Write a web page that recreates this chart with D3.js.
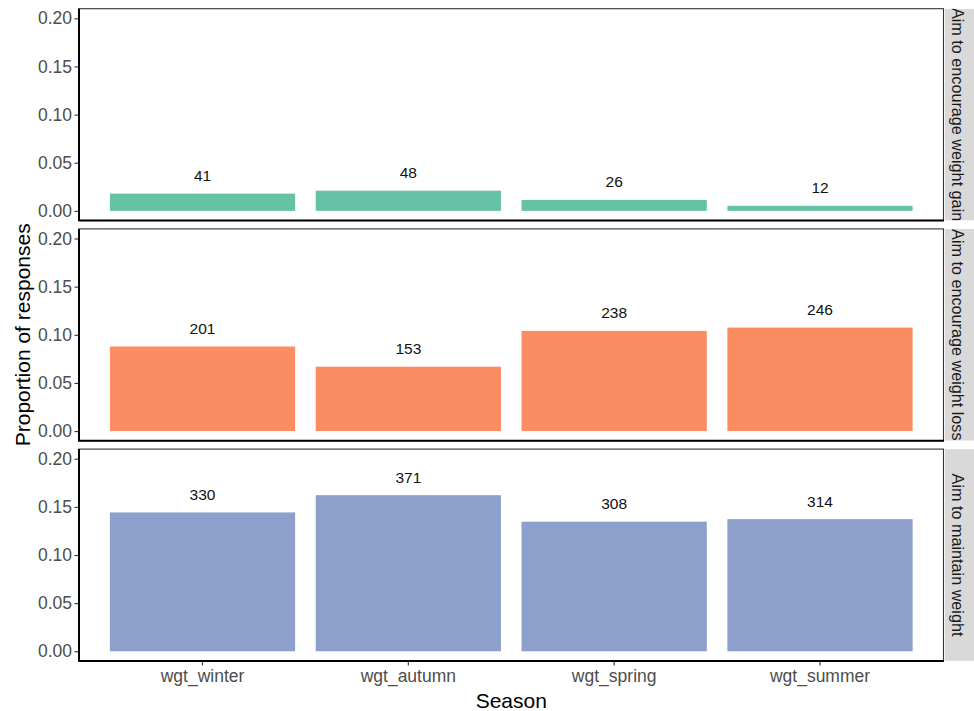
<!DOCTYPE html>
<html>
<head>
<meta charset="utf-8">
<script src="https://cdn.jsdelivr.net/npm/d3@7"></script>
<style>
  html, body { margin: 0; padding: 0; background: #fff; }
  svg { display: block; font-family: "Liberation Sans", Arial, sans-serif; }
</style>
</head>
<body>
<svg id="chart" width="974" height="711"></svg>
<script>
// Seasons on the x axis
const seasons = ["wgt_winter", "wgt_autumn", "wgt_spring", "wgt_summer"];
// Facet rows (weight aims)
const aims = ["Aim to encourage weight gain", "Aim to encourage weight loss", "Aim to maintain weight"];
// Response counts per aim, in season order
const countsGain = [41, 48, 26, 12];
const countsLoss = [201, 153, 238, 246];
const countsMaintain = [330, 371, 308, 314];
const yTicks = [0, 0.05, 0.10, 0.15, 0.20];
const fillColors = ["#66C2A5", "#FC8D62", "#8DA0CB"];

const rows = [countsGain, countsLoss, countsMaintain];
const total = d3.sum(rows.flat());

const svg = d3.select("#chart");

const left = 79, right = 943.5;
const panelH = 211.8, gap = 8.4, top0 = 8.7;
const stripW = 29;

const x = d3.scaleBand()
  .domain(seasons)
  .range([left, right])
  .paddingInner(0.1)
  .paddingOuter(0.15);

const defs = svg.append("defs");

rows.forEach((counts, i) => {
  const pTop = top0 + i * (panelH + gap);
  const pBot = pTop + panelH;
  const y = d3.scaleLinear().domain([-0.01, 0.21]).range([pBot, pTop]);
  const g = svg.append("g");

  // panel background + border
  g.append("rect")
    .attr("x", left).attr("y", pTop)
    .attr("width", right - left).attr("height", panelH)
    .attr("fill", "#fff").attr("stroke", "#333").attr("stroke-width", 1.1);

  // bars
  const data = seasons.map((s, j) => ({ season: s, n: counts[j], p: counts[j] / total }));
  g.selectAll("rect.bar").data(data).join("rect")
    .attr("class", "bar")
    .attr("x", d => x(d.season))
    .attr("width", x.bandwidth())
    .attr("y", d => y(d.p))
    .attr("height", d => y(0) - y(d.p))
    .attr("fill", fillColors[i]);

  // count labels
  g.selectAll("text.lab").data(data).join("text")
    .attr("class", "lab")
    .attr("x", d => x(d.season) + x.bandwidth() / 2)
    .attr("y", d => y(d.p) - 12.5)
    .attr("text-anchor", "middle")
    .attr("font-size", 15.5)
    .attr("fill", "#111")
    .text(d => d.n);

  // y axis
  const ay = g.append("g")
    .attr("transform", `translate(${left},0)`)
    .call(d3.axisLeft(y).tickValues(yTicks).tickFormat(d3.format(".2f")).tickSize(4.5).tickPadding(2.5));
  ay.select(".domain").remove();
  ay.selectAll(".tick line").attr("stroke", "#333").attr("stroke-width", 1.1);
  ay.selectAll(".tick text").attr("font-size", 17.5).attr("fill", "#4D4D4D")
    .attr("font-family", "'Liberation Sans', Arial, sans-serif");

  // x axis only under the last panel
  if (i === rows.length - 1) {
    const ax = g.append("g")
      .attr("transform", `translate(0,${pBot})`)
      .call(d3.axisBottom(x).tickSize(4.5).tickPadding(4));
    ax.select(".domain").remove();
    ax.selectAll(".tick line").attr("stroke", "#333").attr("stroke-width", 1.1);
    ax.selectAll(".tick text").attr("font-size", 17.5).attr("fill", "#4D4D4D")
      .attr("font-family", "'Liberation Sans', Arial, sans-serif");
  }

  // axis lines (left and bottom)
  g.append("line")
    .attr("x1", left).attr("x2", left).attr("y1", pTop).attr("y2", pBot + 0.5)
    .attr("stroke", "#000").attr("stroke-width", 2);
  g.append("line")
    .attr("x1", left - 0.5).attr("x2", right + 0.5).attr("y1", pBot).attr("y2", pBot)
    .attr("stroke", "#000").attr("stroke-width", 2);

  // facet strip, text clipped to the strip box
  const sx = right + 1.5;
  defs.append("clipPath").attr("id", "strip" + i)
    .append("rect").attr("x", sx).attr("y", pTop).attr("width", stripW).attr("height", panelH);
  const sg = svg.append("g").attr("clip-path", `url(#strip${i})`);
  sg.append("rect")
    .attr("x", sx).attr("y", pTop).attr("width", stripW).attr("height", panelH)
    .attr("fill", "#D9D9D9");
  sg.append("text")
    .attr("transform", `translate(951.5,${pTop + panelH / 2}) rotate(90)`)
    .attr("text-anchor", "middle")
    .attr("font-size", 16.2)
    .attr("fill", "#1A1A1A")
    .text(aims[i]);
});

// axis titles
svg.append("text")
  .attr("x", (left + right) / 2).attr("y", 707.5)
  .attr("text-anchor", "middle")
  .attr("font-size", 21)
  .attr("fill", "#000")
  .text("Season");

svg.append("text")
  .attr("transform", `translate(29.5,${top0 + (3 * panelH + 2 * gap) / 2}) rotate(-90)`)
  .attr("text-anchor", "middle")
  .attr("font-size", 21)
  .attr("fill", "#000")
  .text("Proportion of responses");
</script>
</body>
</html>
